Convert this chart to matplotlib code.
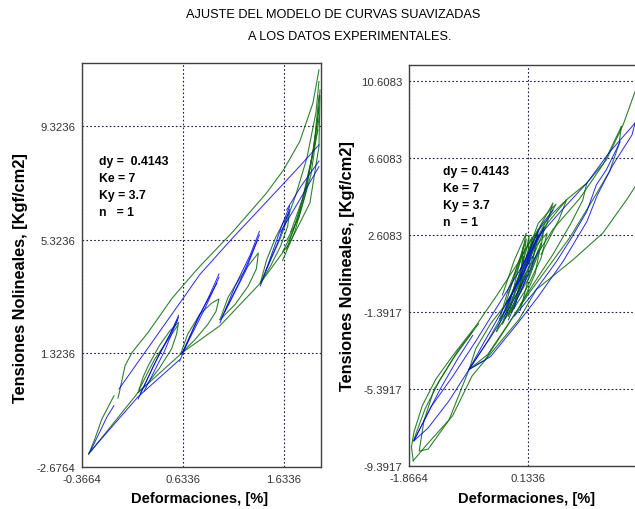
import matplotlib
matplotlib.use("Agg")
import matplotlib.pyplot as plt

# Lazos de histeresis: verde = datos experimentales, azul = modelo de curvas suavizadas
# cada tramo es una lista de puntos (deformacion %, tension kgf/cm2)

izq_verde = [
    [(-0.30, -2.22), (-0.24, -1.70), (-0.17, -0.99), (-0.05, -0.17)],
    [(-0.01, -0.25), (0.00, -0.11), (0.06, 0.89), (0.13, 1.36), (0.29, 2.07), (0.52, 3.24),
     (0.63, 3.70), (0.80, 4.39), (1.13, 5.62), (1.46, 6.97), (1.63, 7.79), (1.79, 8.79),
     (1.92, 10.14), (1.98, 11.31)],
    [(-0.30, -2.22), (0.19, -0.05), (0.63, 1.36), (1.00, 2.30), (1.40, 3.80), (1.69, 5.21),
     (1.89, 6.62), (1.98, 8.61), (1.99, 10.40)],
    [(0.19, -0.05), (0.24, 0.50), (0.29, 0.89), (0.40, 1.60), (0.50, 2.10), (0.59, 2.42),
     (0.57, 2.00), (0.52, 1.48), (0.40, 0.80), (0.28, 0.25), (0.19, -0.05)],
    [(0.20, 0.05), (0.35, 1.10), (0.58, 2.30)],
    [(0.61, 1.30), (0.68, 2.00), (0.80, 2.70), (0.92, 3.10), (0.99, 3.24), (0.96, 2.80),
     (0.88, 2.35), (0.75, 1.80), (0.61, 1.30)],
    [(1.00, 2.51), (1.08, 3.30), (1.20, 4.00), (1.30, 4.50), (1.38, 4.86), (1.36, 4.30),
     (1.28, 3.70), (1.15, 3.05), (1.00, 2.51)],
    [(1.40, 3.80), (1.46, 4.60), (1.55, 5.40), (1.63, 5.95), (1.69, 6.33), (1.67, 5.80),
     (1.60, 5.10), (1.50, 4.40), (1.40, 3.80)],
    [(1.40, 3.80), (1.60, 5.40), (1.75, 6.90), (1.86, 8.20), (1.95, 9.80), (1.98, 10.90)],
    [(1.66, 5.00), (1.78, 6.20), (1.90, 8.00), (1.97, 9.60), (1.99, 10.60)],
    [(1.98, 10.40), (1.93, 8.60), (1.85, 7.10), (1.72, 5.60), (1.62, 4.90)],
    [(1.62, 4.60), (1.74, 5.60), (1.85, 7.00), (1.93, 8.60), (1.98, 10.00)],
    [(1.70, 5.60), (1.82, 6.80), (1.92, 8.40), (1.97, 9.20)],
    [(1.98, 9.60), (1.90, 7.60), (1.78, 6.10), (1.66, 5.30)],
]

izq_azul = [
    [(-0.28, -2.10), (-0.12, -0.92), (-0.05, -0.52)],
    [(0.00, 0.07), (0.63, 3.24), (0.80, 4.10), (1.13, 5.41), (1.46, 6.66), (1.79, 7.92), (1.98, 8.67)],
    [(-0.30, -2.20), (0.19, -0.20), (0.60, 1.10)],
    [(0.19, -0.28), (0.35, 0.95), (0.50, 1.95), (0.59, 2.66)],
    [(0.21, -0.10), (0.40, 1.30), (0.58, 2.50)],
    [(0.59, 2.60), (0.45, 1.40), (0.25, 0.00)],
    [(0.60, 1.05), (0.75, 2.30), (0.90, 3.40), (0.99, 4.12)],
    [(0.62, 1.30), (0.80, 2.70), (0.97, 3.80)],
    [(0.99, 4.00), (0.85, 2.90), (0.65, 1.50)],
    [(1.00, 2.40), (1.15, 3.70), (1.30, 4.80), (1.39, 5.62)],
    [(1.02, 2.60), (1.20, 3.90), (1.37, 5.30)],
    [(1.39, 5.50), (1.25, 4.20), (1.05, 2.80)],
    [(1.40, 3.70), (1.52, 4.90), (1.62, 5.90), (1.69, 6.51)],
    [(1.69, 6.40), (1.58, 5.30), (1.45, 4.20)],
    [(1.66, 6.38), (1.80, 7.20), (1.98, 8.10)],
    [(1.60, 5.60), (1.80, 6.80), (1.98, 7.90)],
]

der_verde = [
    [(-1.80, -9.10), (-1.83, -8.40), (-1.79, -7.63), (-1.65, -6.26), (-1.42, -4.87), (-1.14, -3.67),
     (-0.75, -2.12), (-0.40, -0.55), (-0.05, 1.10), (0.22, 2.54), (0.55, 3.75), (0.78, 4.44),
     (1.12, 5.30), (1.45, 6.51), (1.73, 8.32), (1.93, 10.04), (2.12, 11.30)],
    [(-1.80, -9.10), (-1.59, -8.33), (-1.14, -6.78), (-0.81, -4.70), (-0.30, -2.81), (-0.02, -1.77),
     (0.27, -0.22), (0.89, 1.33), (1.39, 2.71), (1.79, 4.44), (2.12, 6.00)],
    [(1.70, 8.23), (1.66, 7.30), (1.50, 5.90), (1.23, 4.48), (0.83, 2.46), (0.50, 1.07),
     (0.15, -0.40), (-0.20, -2.00), (-0.55, -3.60), (-0.86, -4.36)],
    [(-0.86, -4.36), (-0.55, -2.90), (-0.20, -1.00), (0.20, 1.20), (0.55, 2.90), (1.00, 4.50),
     (1.40, 6.30), (1.70, 8.23)],
    [(1.12, 5.30), (1.05, 4.40), (0.85, 3.20), (0.55, 1.60), (0.25, 0.20), (0.00, -1.00)],
    [(-1.62, -7.03), (-1.70, -8.60), (-1.55, -8.50), (-1.20, -7.00), (-0.86, -4.36)],
    [(-1.62, -7.03), (-1.45, -5.40), (-1.15, -3.90), (-0.80, -2.40)],
    [(-1.79, -8.00), (-1.60, -6.40), (-1.35, -4.90), (-1.05, -3.40), (-0.70, -2.00)],
    [(-0.86, -4.36), (-0.75, -3.30), (-0.50, -2.00), (-0.20, -0.80), (0.00, 0.30)],
    [(-0.86, -4.36), (-0.60, -3.90), (-0.30, -2.50), (0.05, -0.80)],
    [(-0.30, -2.00), (-0.15, -0.50), (0.05, 1.00), (0.20, 2.20), (0.30, 2.80), (0.25, 1.80),
     (0.10, 0.50), (-0.10, -0.90), (-0.30, -2.00)],
    [(-0.20, -1.60), (-0.05, 0.20), (0.10, 1.80), (0.15, 2.60), (0.12, 1.20), (0.00, -0.20), (-0.20, -1.60)],
    [(-0.40, -2.40), (-0.20, -0.80), (0.00, 0.60), (0.30, 2.40), (0.40, 3.00), (0.35, 2.00),
     (0.15, 0.40), (-0.15, -1.20), (-0.40, -2.40)],
    [(-0.10, -1.20), (0.00, 0.00), (0.05, 1.50), (0.02, 0.40), (-0.10, -1.20)],
    [(-0.25, -1.00), (-0.05, 1.00), (0.10, 2.40), (0.05, 1.20), (-0.10, -0.20), (-0.25, -1.00)],
    [(0.00, 0.50), (0.25, 2.60), (0.55, 4.27), (0.45, 3.20), (0.20, 1.40)],
    [(0.10, 1.00), (0.40, 3.00), (0.78, 4.44), (0.65, 3.40), (0.35, 1.60)],
    [(-0.35, -1.80), (-0.20, -0.20), (0.00, 1.40), (0.20, 2.50), (0.15, 1.00), (-0.05, -0.40), (-0.35, -1.80)],
    [(-0.15, -1.40), (0.05, 0.60), (0.25, 2.00), (0.45, 2.70), (0.35, 1.40), (0.10, -0.20), (-0.15, -1.40)],
    [(-0.05, -0.60), (0.10, 1.20), (0.30, 2.90), (0.20, 1.00), (0.00, -0.40)],
    [(-0.25, -1.70), (-0.10, 0.00), (0.05, 2.00), (0.00, 0.30), (-0.25, -1.70)],
    [(0.00, -1.30), (0.15, 0.50), (0.35, 2.20), (0.25, 0.60), (0.05, -0.80)],
    [(-0.30, -0.50), (-0.10, 1.30), (0.10, 2.70), (0.00, 1.20), (-0.20, -0.40)],
    [(0.10, 1.50), (0.30, 3.20), (0.50, 3.90), (0.60, 4.20), (0.45, 3.40), (0.20, 2.00)],
]

der_azul = [
    [(-1.79, -8.07), (-1.50, -6.30), (-1.13, -4.70), (-0.73, -2.81), (-0.45, -1.42), (0.00, 0.82),
     (0.31, 2.54), (0.70, 3.90), (1.12, 5.30), (1.50, 6.90), (1.93, 8.41)],
    [(1.93, 8.41), (1.88, 7.80), (1.56, 6.25), (1.30, 4.70), (1.12, 3.30), (0.72, 1.24),
     (0.30, -0.60), (-0.05, -2.00), (-0.50, -3.70), (-0.86, -4.36)],
    [(1.68, 7.45), (1.45, 6.00), (1.28, 5.21), (1.12, 3.83), (0.85, 2.40), (0.61, 1.24),
     (0.25, -0.30), (-0.10, -1.60)],
    [(-0.86, -4.36), (-0.60, -2.90), (-0.30, -1.30), (0.00, 0.30), (0.20, 1.50)],
    [(-0.86, -4.36), (-0.50, -2.70), (-0.15, -1.00), (0.10, 0.50)],
    [(-0.86, -4.36), (-1.20, -6.00), (-1.55, -7.40), (-1.79, -8.07)],
    [(-1.79, -8.07), (-1.62, -7.03), (-1.35, -5.40), (-1.05, -3.80), (-0.80, -2.60)],
    [(-0.30, -1.60), (0.00, 0.50), (0.25, 2.20), (0.40, 3.00)],
    [(-0.20, -1.80), (0.05, 0.00), (0.30, 1.80)],
    [(0.30, 2.60), (0.10, 1.00), (-0.20, -0.80)],
    [(0.00, 0.80), (0.35, 3.10), (0.55, 3.90)],
]

izq_xticks = [-0.3664, 0.6336, 1.6336]
izq_yticks = [-2.6764, 1.3236, 5.3236, 9.3236]
der_xticks = [-1.8664, 0.1336]
der_yticks = [-9.3917, -5.3917, -1.3917, 2.6083, 6.6083, 10.6083]

parametros_izq = "dy =  0.4143\nKe = 7\nKy = 3.7\nn   = 1"
parametros_der = "dy = 0.4143\nKe = 7\nKy = 3.7\nn   = 1"

plt.rcParams['font.family'] = ['Liberation Sans', 'DejaVu Sans']

fig = plt.figure(figsize=(6.35, 5.10), dpi=100)
ax1 = fig.add_axes([0.1291, 0.0824, 0.3764, 0.7920])
ax2 = fig.add_axes([0.6446, 0.0837, 0.3732, 0.7875])

fig.text(333.5 / 635, 1 - 15 / 510, "AJUSTE DEL MODELO DE CURVAS SUAVIZADAS",
         ha='center', va='center', fontsize=9.2)
fig.text(350 / 635, 1 - 36.7 / 510, "A LOS DATOS EXPERIMENTALES.",
         ha='center', va='center', fontsize=9.2)


def dibujar(ax, verdes, azules, xlim, ylim, xticks, yticks, texto, tx, ty):
    for tramo in verdes:
        xs = [p[0] for p in tramo]
        ys = [p[1] for p in tramo]
        ax.plot(xs, ys, color='#0b6b0b', lw=0.8, alpha=0.85)
    for tramo in azules:
        xs = [p[0] for p in tramo]
        ys = [p[1] for p in tramo]
        ax.plot(xs, ys, color='#0000ff', lw=0.7, alpha=0.85)
    ax.set_xlim(*xlim)
    ax.set_ylim(*ylim)
    ax.set_xticks(xticks)
    ax.set_yticks(yticks)
    ax.set_xticklabels([f"{v:.4f}" for v in xticks])
    ax.set_yticklabels([f"{v:.4f}" for v in yticks])
    ax.tick_params(length=0, pad=5, labelsize=8.2, labelcolor='#333333')
    ax.grid(True, color='#1a1a50', lw=0.8, linestyle=(0, (1.5, 2)))
    for s in ax.spines.values():
        s.set_color('#404040')
        s.set_linewidth(1.0)
    ax.set_xlabel("Deformaciones, [%]", fontsize=10.5, fontweight='bold', va='center')
    ax.set_ylabel("Tensiones Nolineales, [Kgf/cm2]", fontsize=11.8, fontweight='bold', va='center')
    ax.text(tx, ty, texto, transform=ax.transAxes, ha='left', va='top',
            fontsize=8.8, fontweight='bold', linespacing=1.55)
    return ax


dibujar(ax1, izq_verde, izq_azul, (-0.3664, 2.0), (-2.6764, 11.55), izq_xticks, izq_yticks,
        parametros_izq, 0.07, 0.772)
ax1.yaxis.set_label_coords(-(82 - 21) / 239, 0.47)
ax1.xaxis.set_label_coords(0.49, -(499 - 468) / 404)

dibujar(ax2, der_verde, der_azul, (-1.8664, 2.12), (-9.3917, 11.44), der_xticks, der_yticks,
        parametros_der, 0.143, 0.750)
ax2.yaxis.set_label_coords(-(409 - 347) / 237, 0.5)
ax2.xaxis.set_label_coords(0.495, -(499 - 467) / 401.6)

fig.savefig("out.png", dpi=100)
